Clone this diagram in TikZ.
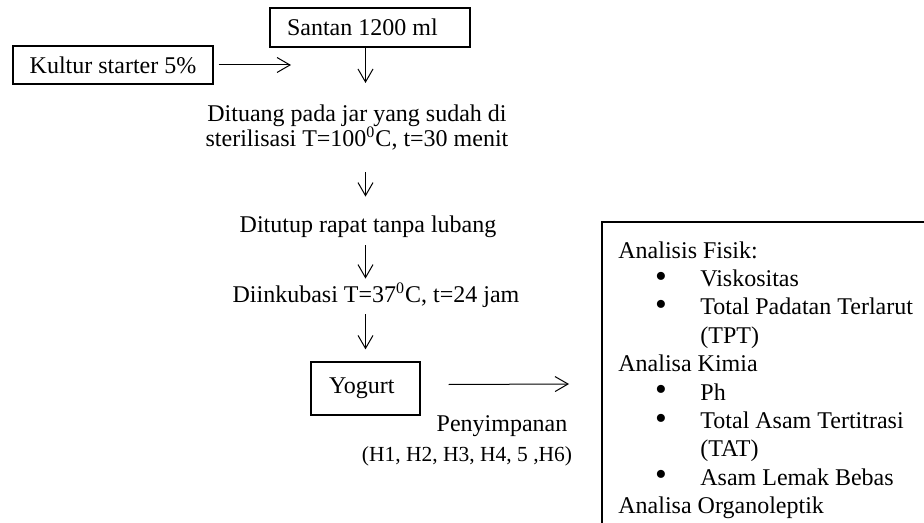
\documentclass[tikz,border=0pt]{standalone}
\usepackage{fontspec}
\setmainfont{Liberation Serif}
\usetikzlibrary{arrows.meta,positioning}

\newcommand{\butir}[1]{\makebox[41pt][l]{\hspace*{18.3pt}\smash{\raisebox{-0.3pt}{\scalebox{1.4}{\textbullet}}}}#1}
\newcommand{\lanjut}[1]{\hspace*{41pt}#1}

\begin{document}
\begin{tikzpicture}[x=0.5pt, y=-0.5pt, font=\fontsize{12}{14.2}\selectfont]
\tikzstyle{kotak} = [draw, line width=0.6pt, inner sep=0pt]
\tikzstyle{teks} = [inner sep=0pt, text height=8.5pt, text depth=2.5pt]
\tikzstyle{panah} = [-{Straight Barb[length=6.5pt,width=7.5pt]}, line width=0.5pt]
\useasboundingbox (0,0) rectangle (924,523);
\clip (0,0) rectangle (924,523);

% alur proses
\node[kotak, minimum width=100pt, minimum height=19pt] (kultur) at (113,65) {Kultur starter 5\%};
\node[kotak, text width=83pt, inner xsep=8.5pt, align=flush left, minimum height=19.5pt] (santan) at (370,27.5) {Santan 1200 ml};
\node[inner sep=0pt, align=center, anchor=north, font=\fontsize{12}{12.5}\selectfont] (dituang) at (357,104)
  {Dituang pada jar yang sudah di\\sterilisasi T=100\textsuperscript{0}C, t=30 menit};
\node[teks] (ditutup) at (368,227) {Ditutup rapat tanpa lubang};
\node[teks] (inkubasi) at (376,296) {Diinkubasi T=37\textsuperscript{0}C, t=24 jam};
\node[kotak, text width=36.5pt, inner xsep=9pt, align=flush left, minimum height=26.5pt] (yogurt) at (365.5,388.5) {Yogurt};
\node[teks] (simpan) at (502,425) {Penyimpanan};
\node[teks, font=\fontsize{10.75}{13}\selectfont] (hari) at (467,455) {(H1, H2, H3, H4, 5 ,H6)};

\coordinate (masuk) at (291,65);
\coordinate (keluar) at (569,384);

\draw[panah] ([xshift=2.5pt]kultur.east) -- (masuk);
\draw[panah, shorten >=10.5pt] (santan.south -| yogurt) -- (dituang.north -| yogurt);
\draw[panah, shorten <=11pt, shorten >=9.5pt] (dituang.south -| yogurt) -- (ditutup.north -| yogurt);
\draw[panah, shorten <=3.5pt, shorten >=3pt] (ditutup.south -| yogurt) -- (inkubasi.north -| yogurt);
\draw[panah, shorten <=3.5pt, shorten >=6pt] (inkubasi.south -| yogurt) -- (yogurt.north);
\draw[panah] ([xshift=14pt,yshift=2pt]yogurt.east) -- (keluar);

% analisis
\draw[line width=0.6pt] (602,222) rectangle (980,580);
\node[inner sep=0pt, align=left, anchor=north west] (analisis) at (618,241)
  {Analisis Fisik:\\
   \butir{Viskositas}\\
   \butir{Total Padatan Terlarut}\\
   \lanjut{(TPT)}\\
   Analisa Kimia\\
   \butir{Ph}\\
   \butir{Total Asam Tertitrasi}\\
   \lanjut{(TAT)}\\
   \butir{Asam Lemak Bebas}\\
   Analisa Organoleptik};
\end{tikzpicture}
\end{document}
